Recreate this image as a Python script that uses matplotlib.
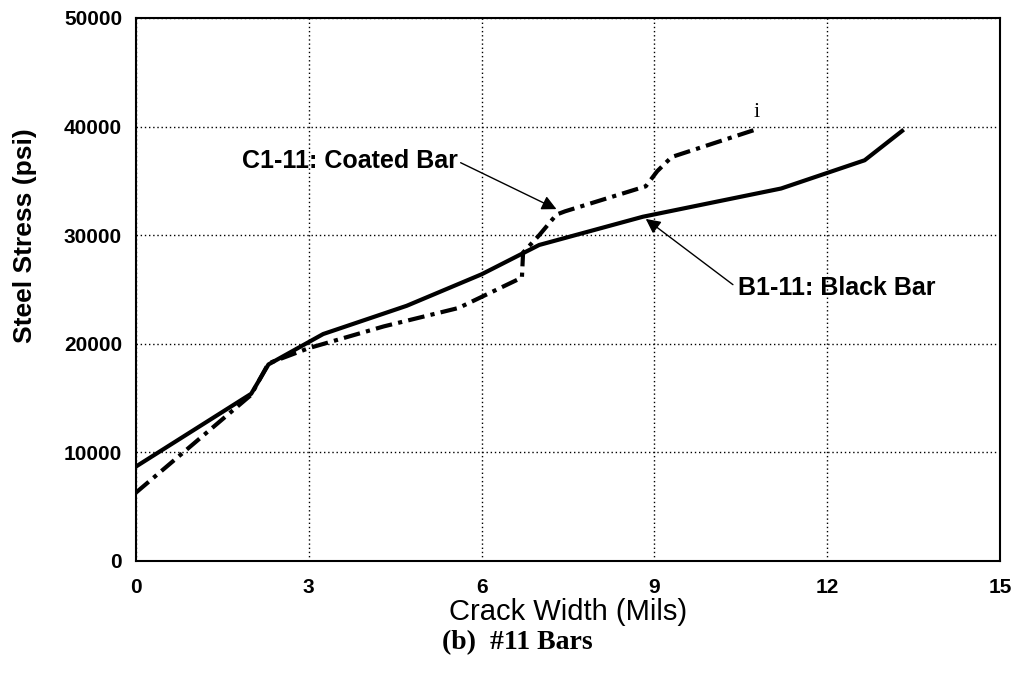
import matplotlib
matplotlib.use("Agg")
import matplotlib.pyplot as plt

# Data
black_x = [0.0, 2.0, 2.3, 3.25, 4.7, 6.0, 7.0, 8.8, 11.2, 12.65, 13.3]
black_y = [8700, 15400, 18100, 20900, 23500, 26400, 29100, 31700, 34300, 36900, 39600]

coated_x = [0.0, 2.0, 2.3, 3.0, 4.3, 5.6, 6.7, 6.72, 7.0, 7.3, 7.45, 8.85, 9.05, 9.3, 10.8]
coated_y = [6300, 15300, 18200, 19600, 21600, 23300, 26100, 28400, 30000, 31900, 32200, 34500, 35900, 37200, 39800]

x_ticks = [0, 3, 6, 9, 12, 15]
y_ticks = [0, 10000, 20000, 30000, 40000, 50000]

label_coated = "C1-11: Coated Bar"
label_black = "B1-11: Black Bar"

W, H = 1023, 691
fig = plt.figure(figsize=(W / 100, H / 100), dpi=100)
left, right, top, bottom = 136, 1000, 18, 561
ax = fig.add_axes([left / W, (H - bottom) / H, (right - left) / W, (bottom - top) / H])

ax.plot(black_x, black_y, color="black", lw=3.0, solid_joinstyle="round")
ax.plot(coated_x, coated_y, color="black", lw=3.0, linestyle=(0, (4, 1.5, 1, 1.5)))

ax.set_xlim(0, 15)
ax.set_ylim(0, 50000)
ax.set_xticks(x_ticks)
ax.set_yticks(y_ticks)
ax.set_xticklabels([str(v) for v in x_ticks], fontsize=15, fontweight="bold", family="Liberation Sans")
ax.set_yticklabels([str(v) for v in y_ticks], fontsize=15, fontweight="bold", family="Liberation Sans")
ax.tick_params(axis="x", length=0, pad=12)
ax.tick_params(axis="y", length=0, pad=10)
ax.grid(True, color="black", linestyle=(0, (1, 2)), linewidth=1.0)
for s in ax.spines.values():
    s.set_linewidth(1.5)
    s.set_color("black")

ax.set_ylabel("Steel Stress (psi)", fontsize=19, family="Liberation Sans", fontweight="bold")
ax.yaxis.set_label_coords(-0.1146, 0.60)
ax.set_xlabel("Crack Width (Mils)", fontsize=21, family="Liberation Sans")
ax.xaxis.set_label_coords(0.5, -(612 - 561) / (bottom - top), transform=ax.transAxes)
ax.xaxis.label.set_va("center")

ax.annotate(label_coated, xy=(7.3, 32400), xytext=(1.84, 36800),
            fontsize=18, family="Liberation Sans", fontweight="bold", va="center", ha="left",
            arrowprops=dict(arrowstyle="-|>", color="black", lw=1.0, mutation_scale=22,
                            shrinkA=0, shrinkB=0, relpos=(1.0, 0.5)))
ax.annotate(label_black, xy=(8.85, 31500), xytext=(10.45, 25100),
            fontsize=18, family="Liberation Sans", fontweight="bold", va="center", ha="left",
            arrowprops=dict(arrowstyle="-|>", color="black", lw=1.0, mutation_scale=22,
                            shrinkA=2, shrinkB=0, relpos=(0.0, 0.5)))
ax.text(10.78, 41300, "i", fontsize=16, family="Liberation Serif", ha="center", va="center")

fig.text(517 / W, 1 - 643 / H, "(b)  #11 Bars", fontsize=20, family="Liberation Serif",
         fontweight="bold", ha="center", va="center")

fig.savefig("out.png", dpi=100, facecolor="white")
